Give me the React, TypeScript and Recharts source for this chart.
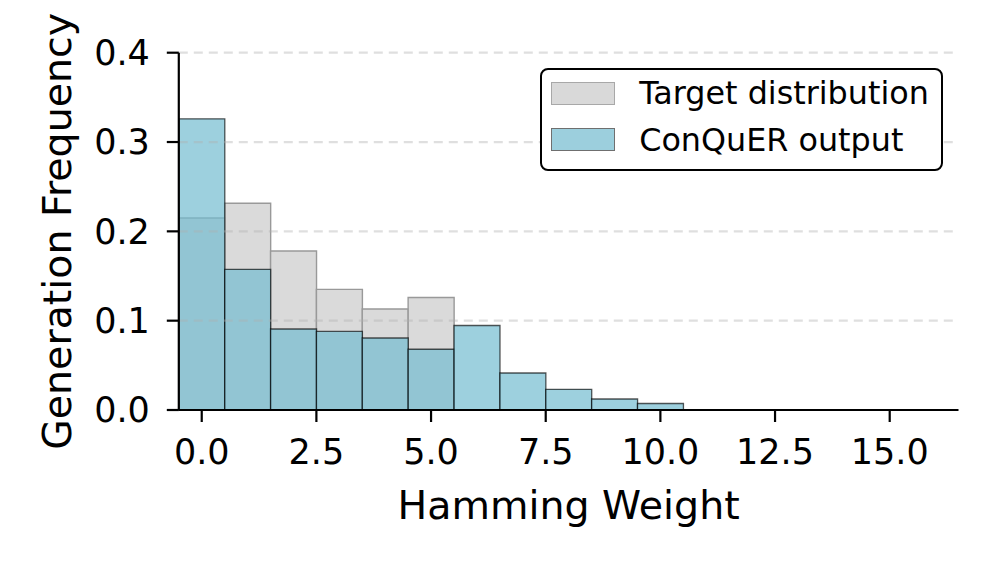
import React from "react";
import { BarChart, Bar, XAxis, YAxis, ReferenceLine, Legend } from "recharts";

const hammingWeights = [0, 1, 2, 3, 4, 5, 6, 7, 8, 9, 10, 11, 12, 13, 14, 15, 16];
const targetFreq = [0.215, 0.2315, 0.178, 0.135, 0.113, 0.126, 0, 0, 0, 0, 0, 0, 0, 0, 0, 0, 0];
const conquerFreq = [0.326, 0.1575, 0.0907, 0.088, 0.0806, 0.068, 0.0946, 0.0414, 0.0232, 0.0123, 0.0073, 0, 0, 0, 0, 0, 0];
const xTicks = [0, 2.5, 5, 7.5, 10, 12.5, 15];
const yTicks = [0, 0.1, 0.2, 0.3, 0.4];
const gridLevels = [0.1, 0.2, 0.3, 0.4];
const seriesOrder = ["target", "conquer"];

const data = hammingWeights.map((w, i) => ({ w, target: targetFreq[i], conquer: conquerFreq[i] }));

const FONT = "'DejaVu Sans', sans-serif";
const GRAY = "#d3d3d3";
const GRAY_OP = 0.85;
const BLUE = "#73bcd0";
const BLUE_OP = 0.7;

const swatchStyles: Record<string, React.CSSProperties> = {
  target: { background: GRAY, opacity: GRAY_OP, border: "1.5px solid #999" },
  conquer: { background: BLUE, opacity: BLUE_OP, border: "1.5px solid #333" },
};

const renderLegend = (props: any) => {
  const payload = [...(props.payload || [])].sort(
    (a: any, b: any) => seriesOrder.indexOf(a.dataKey) - seriesOrder.indexOf(b.dataKey)
  );
  return (
    <div
      style={{
        boxSizing: "border-box",
        width: 403,
        height: 103,
        border: "2.9px solid #000",
        borderRadius: 8,
        background: "#fff",
        paddingTop: 0.2,
        paddingLeft: 9.2,
        fontFamily: FONT,
        fontSize: 31.8,
        color: "#000",
      }}
    >
      {payload.map((p: any) => (
        <div key={p.value} style={{ display: "flex", alignItems: "center", height: 46.3 }}>
          <div style={{ boxSizing: "border-box", width: 64, height: 23, ...swatchStyles[p.dataKey] }} />
          <span style={{ marginLeft: 24, lineHeight: "32px" }}>{p.value}</span>
        </div>
      ))}
    </div>
  );
};

export default function App() {
  return (
    <div style={{ position: "absolute", left: 0, top: 0, width: 997, height: 570, background: "#fff" }}>
      <BarChart
        width={997}
        height={570}
        data={data}
        margin={{ top: 52.7, right: 38.5, bottom: 0, left: 0 }}
        barCategoryGap={0}
        barGap={0}
      >
        <XAxis
          xAxisId="n"
          dataKey="w"
          type="number"
          domain={[-0.5, 16.5]}
          allowDataOverflow
          ticks={xTicks}
          interval={0}
          height={160}
          tickFormatter={(v: number) => v.toFixed(1)}
          tick={{ fill: "#000", fontSize: 35, fontFamily: FONT }}
          tickSize={12}
          tickMargin={17}
          axisLine={{ stroke: "#000", strokeWidth: 2.2 }}
          tickLine={{ stroke: "#000", strokeWidth: 2.2 }}
          label={{
            value: "Hamming Weight",
            position: "insideBottom",
            offset: 51,
            style: { fill: "#000", fontSize: 39.5, fontFamily: FONT },
          }}
        />
        <XAxis xAxisId="a" dataKey="w" type="category" hide height={0} />
        <XAxis xAxisId="b" dataKey="w" type="category" hide height={0} />
        <YAxis
          domain={[0, 0.4]}
          ticks={yTicks}
          interval={0}
          width={178.8}
          tickFormatter={(v: number) => v.toFixed(1)}
          tick={{ fill: "#000", fontSize: 35, fontFamily: FONT }}
          tickSize={12}
          tickMargin={17}
          axisLine={{ stroke: "#000", strokeWidth: 2.2 }}
          tickLine={{ stroke: "#000", strokeWidth: 2.2 }}
          label={{
            value: "Generation Frequency",
            angle: -90,
            position: "insideLeft",
            offset: 56.5,
            style: { textAnchor: "middle", fill: "#000", fontSize: 39.5, fontFamily: FONT },
          }}
        />
        <Bar
          xAxisId="a"
          dataKey="target"
          name="Target distribution"
          fill={GRAY}
          fillOpacity={GRAY_OP}
          stroke="#999"
          strokeWidth={1.4}
          isAnimationActive={false}
        />
        <Bar
          xAxisId="b"
          dataKey="conquer"
          name="ConQuER output"
          fill={BLUE}
          fillOpacity={BLUE_OP}
          stroke="#000"
          strokeOpacity={0.65}
          strokeWidth={1.3}
          isAnimationActive={false}
        />
        {gridLevels.map((g) => (
          <ReferenceLine
            key={g}
            xAxisId="n"
            y={g}
            stroke="#b0b0b0"
            strokeOpacity={0.4}
            strokeWidth={2.2}
            strokeDasharray="9 6"
          />
        ))}
        <Legend
          layout="vertical"
          align="center"
          verticalAlign="middle"
          content={renderLegend}
          wrapperStyle={{ left: 540, top: 68, width: 403, height: 103 }}
        />
      </BarChart>
    </div>
  );
}
